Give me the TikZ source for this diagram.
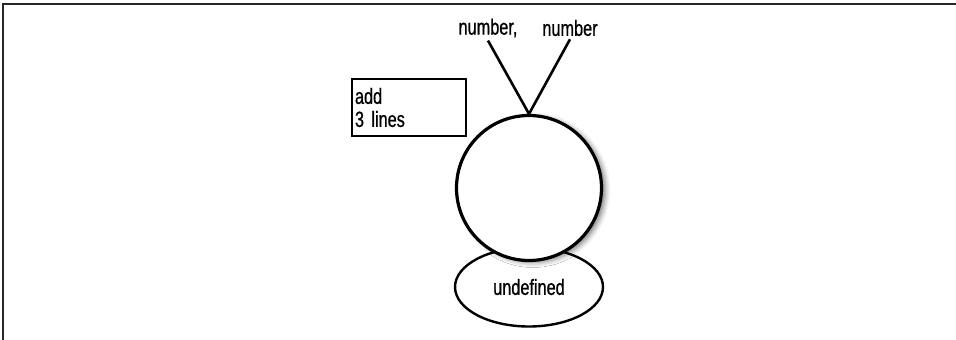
\documentclass[tikz,border=0pt]{standalone}
\usepackage{fontspec}
\setmainfont{Liberation Sans}[FakeStretch=0.74, FakeBold=0.8]
\usetikzlibrary{positioning,shapes.geometric,shadows.blur}

\tikzset{
	label text/.style={font=\fontsize{22}{23}\selectfont, inner sep=3pt},
	ball/.style={circle, draw, line width=3.2pt, fill=white, minimum size=145pt,
		blur shadow={shadow xshift=4pt, shadow yshift=-2pt, shadow blur radius=5pt, shadow opacity=50}},
	base/.style={ellipse, draw, line width=2.4pt, fill=white, minimum width=148pt, minimum height=79pt},
	notebox/.style={rectangle, draw, line width=2.4pt, text width=108pt, align=left, minimum height=57pt, inner sep=6pt},
	stick/.style={line width=2.6pt}
}

\begin{document}
\begin{tikzpicture}[x=1pt,y=-1pt]
	\useasboundingbox (0,0) rectangle (956,340);

	% Ramme
	\draw[line width=2pt, black!85] (2.5,340) -- (2.5,4) -- (956,4);

	% Underlag og kule
	\node[base, label text] (undef) at (529,287) {undefined};
	\node[ball] (ball) at (529,188) {};

	% Merknad
	\node[notebox, label text] (note) at (409,107.5) {add\\3 lines};

	% Argumenter
	\node[label text] (numA) at (488,28) {number,};
	\node[label text] (numB) at (570,28) {number};

	\draw[stick] (numA.south) -- (ball.north);
	\draw[stick] (numB.south) -- (ball.north);
\end{tikzpicture}
\end{document}
